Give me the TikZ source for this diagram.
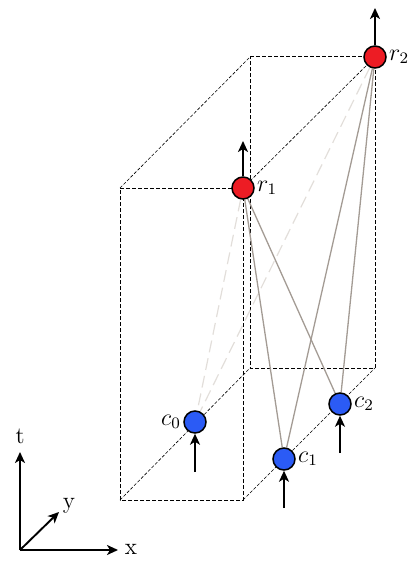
\documentclass[tikz,border=0pt]{standalone}
\usetikzlibrary{arrows.meta,backgrounds}
\definecolor{rred}{HTML}{ED1C24}
\definecolor{cblue}{HTML}{2B5BF5}
\definecolor{linkgray}{HTML}{A39B94}
\definecolor{faintgray}{HTML}{E2DEDA}
\begin{document}
\begin{tikzpicture}[x=0.5pt,y=-0.5pt,
  font=\fontsize{11.8}{14}\selectfont,
  boxedge/.style={line width=0.5pt,dash pattern=on 1.8pt off 1.2pt},
  diagedge/.style={line width=0.3pt,dash pattern=on 1.6pt off 0.9pt},
  link/.style={linkgray,line width=0.65pt},
  faintlink/.style={faintgray,line width=0.6pt,dash pattern=on 6pt off 3pt},
  evt/.style={circle,draw=black,line width=0.75pt,minimum size=11pt,inner sep=0pt},
  revt/.style={evt,fill=rred},
  cevt/.style={evt,fill=cblue},
  tick/.style={-{Stealth[length=5.5pt,width=5pt,inset=1.5pt]},line width=0.95pt},
  lbl/.style={inner sep=1pt}]
\useasboundingbox (0,0) rectangle (416,567);
% box corners
\coordinate (FTL) at (120,188);
\coordinate (FBL) at (120,500);
\coordinate (FBR) at (243,500);
\coordinate (BTL) at (250,57);
\coordinate (BBL) at (250,368);
\coordinate (BBR) at (375,368);
% events
\node[revt,label={[lbl]right:$r_1$}] (r1) at (243,188) {};
\node[revt,label={[lbl]right:$r_2$}] (r2) at (375,57) {};
\node[cevt,label={[lbl]left:$c_0$}] (c0) at (195,422) {};
\node[cevt,label={[lbl]right:$c_1$}] (c1) at (284,459) {};
\node[cevt,label={[lbl]right:$c_2$}] (c2) at (340,404) {};
\begin{scope}[on background layer]
\draw[boxedge] (FTL) -- (r1.center) -- (FBR) -- (FBL) -- cycle;
\draw[boxedge] (BTL) -- (r2.center) -- (BBR) -- (BBL) -- cycle;
\draw[diagedge] (FTL) -- (BTL);
\draw[diagedge] (r1.center) -- (r2.center);
\draw[diagedge] (FBL) -- (BBL);
\draw[diagedge] (FBR) -- (BBR);
\draw[faintlink] (r1) -- (c0);
\draw[faintlink] (r2) -- (c0);
\draw[link] (r1) -- (c1);
\draw[link] (r1) -- (c2);
\draw[link] (r2) -- (c1);
\draw[link] (r2) -- (c2);
\end{scope}
% event arrows
\coordinate (c0in) at (195,472);
\coordinate (c1in) at (284,508);
\coordinate (c2in) at (340,453);
\coordinate (r1out) at (243,141);
\coordinate (r2out) at (375,8);
\draw[tick] (c0in) -- (c0);
\draw[tick] (c1in) -- (c1);
\draw[tick] (c2in) -- (c2);
\draw[tick] (r1) -- (r1out);
\draw[tick] (r2) -- (r2out);
% axes
\coordinate (O) at (20,550);
\node[lbl] (tl) at (20,436) {t};
\node[lbl] (xl) at (131,549) {x};
\node[lbl] (yl) at (69,506) {y};
\coordinate (tend) at (20,452);
\coordinate (xend) at (118,550);
\coordinate (yend) at (59,512);
\draw[tick] (O) -- (tend);
\draw[tick] (O) -- (xend);
\draw[tick] (O) -- (yend);
\end{tikzpicture}
\end{document}
